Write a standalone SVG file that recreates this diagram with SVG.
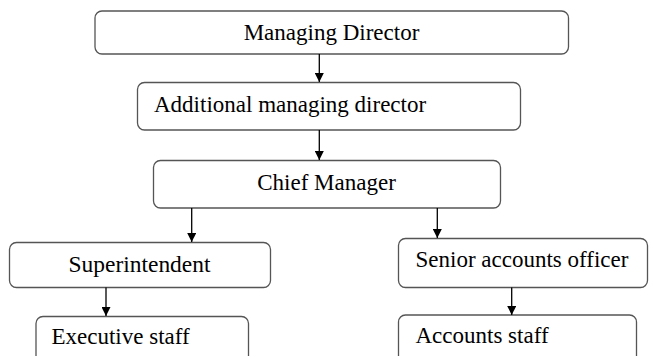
<svg xmlns="http://www.w3.org/2000/svg" width="649" height="356" viewBox="0 0 649 356">
<style>
.box{fill:#fff;stroke:#555;stroke-width:1.3}
.t{font-family:"Liberation Serif","Times New Roman",serif;font-size:23px;fill:#000}
.c{stroke:#000;stroke-width:1.3;fill:none}
</style>
<defs>
<marker id="ah" viewBox="0 0 10 10" refX="10" refY="5" markerWidth="9" markerHeight="9" markerUnits="userSpaceOnUse" orient="auto">
<path d="M0,0 L10,5 L0,10 Z" fill="#000"/>
</marker>
</defs>
<rect width="649" height="356" fill="#fff"/>
<g id="md"><rect class="box" x="95" y="11" width="473.5" height="43" rx="7"/><text class="t" x="331.5" y="40" text-anchor="middle">Managing Director</text></g>
<g id="amd"><rect class="box" x="137.5" y="82.5" width="383" height="47.5" rx="7"/><text class="t" x="154" y="111.5">Additional managing director</text></g>
<g id="cm"><rect class="box" x="153.5" y="160.5" width="347" height="47.5" rx="7"/><text class="t" x="326.5" y="190" text-anchor="middle">Chief Manager</text></g>
<g id="sup"><rect class="box" x="9.5" y="242.5" width="261" height="45" rx="7"/><text class="t" x="68.5" y="271.5" textLength="142" lengthAdjust="spacingAndGlyphs">Superintendent</text></g>
<g id="sao"><rect class="box" x="398.5" y="238.5" width="249" height="49" rx="7"/><text class="t" x="415.5" y="266.5">Senior accounts officer</text></g>
<g id="es"><rect class="box" x="36" y="316.5" width="212.5" height="60" rx="7"/><text class="t" x="51.5" y="344">Executive staff</text></g>
<g id="as"><rect class="box" x="398.5" y="315" width="238" height="60" rx="7"/><text class="t" x="415.5" y="343">Accounts staff</text></g>
<g id="connectors">
<line class="c" x1="319.3" y1="54" x2="319.3" y2="82" marker-end="url(#ah)"/>
<line class="c" x1="319.3" y1="130" x2="319.3" y2="160" marker-end="url(#ah)"/>
<line class="c" x1="191.7" y1="208" x2="191.7" y2="242" marker-end="url(#ah)"/>
<line class="c" x1="437.3" y1="208" x2="437.3" y2="238" marker-end="url(#ah)"/>
<line class="c" x1="106" y1="287.5" x2="106" y2="316" marker-end="url(#ah)"/>
<line class="c" x1="511.7" y1="287.5" x2="511.7" y2="315" marker-end="url(#ah)"/>
</g>
</svg>
